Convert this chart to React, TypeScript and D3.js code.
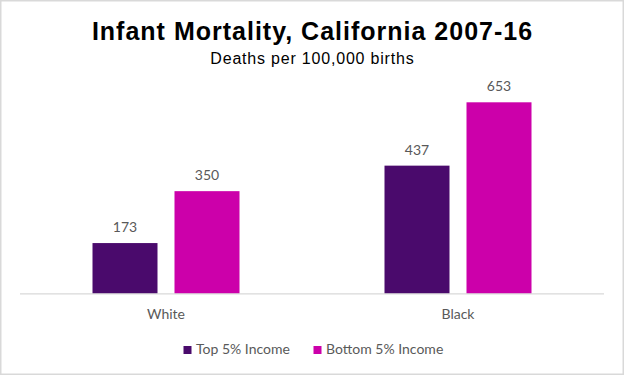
import React from "react";
import * as d3 from "d3";

const categories = ["White", "Black"];
const seriesNames = ["Top 5% Income", "Bottom 5% Income"];
const topIncome = [173, 437];
const bottomIncome = [350, 653];
const colors = ["#4A0A6C", "#CC00AA"];

const W = 624;
const H = 375;

export default function App() {
  const values = [topIncome, bottomIncome];
  const x0 = d3.scaleBand<string>().domain(categories).range([20, 604]);
  const y = d3.scaleLinear().domain([0, 653]).range([293.8, 102.3]);
  const barW = 65;
  const gap = 17;
  const offsets = [-(gap / 2 + barW), gap / 2];
  const labelFont = "Lato, 'Open Sans', sans-serif";

  return (
    <svg
      width={W}
      height={H}
      style={{ position: "absolute", left: 0, top: 0, background: "#fff" }}
    >
      <rect x={0.75} y={0.75} width={W - 1.5} height={H - 1.5} fill="#fff" stroke="#d9d9d9" strokeWidth={1.5} />
      <text x={W / 2 + 0.5} y={39.5} textAnchor="middle" fontFamily="'Liberation Sans', Arial, sans-serif" fontWeight="bold" fontSize={25} letterSpacing={1} fill="#000">
        Infant Mortality, California 2007-16
      </text>
      <text x={W / 2 + 0.4} y={63.5} textAnchor="middle" fontFamily="'Liberation Sans', Arial, sans-serif" fontSize={16} letterSpacing={0.8} fill="#000">
        Deaths per 100,000 births
      </text>
      {categories.map((c, ci) => {
        const cx = (x0(c) as number) + x0.bandwidth() / 2;
        return (
          <g key={c}>
            {values.map((s, si) => {
              const bx = cx + offsets[si];
              const by = y(s[ci]);
              return (
                <g key={si}>
                  <rect x={bx} y={by} width={barW} height={y(0) - by} fill={colors[si]} />
                  <text x={bx + barW / 2} y={by - 11} textAnchor="middle" fontFamily={labelFont} fontSize={14} fill="#595959">
                    {s[ci]}
                  </text>
                </g>
              );
            })}
            <text x={cx} y={319} textAnchor="middle" fontFamily={labelFont} fontSize={14} fill="#595959">
              {c}
            </text>
          </g>
        );
      })}
      <line x1={20} x2={604} y1={y(0)} y2={y(0)} stroke="#d9d9d9" strokeWidth={1.2} />
      {seriesNames.map((n, i) => {
        const lx = [183.5, 313.5][i];
        return (
          <g key={n}>
            <rect x={lx} y={346} width={8} height={8} fill={colors[i]} />
            <text x={lx + 12.5} y={354} fontFamily={labelFont} fontSize={14} fill="#595959">
              {n}
            </text>
          </g>
        );
      })}
    </svg>
  );
}
